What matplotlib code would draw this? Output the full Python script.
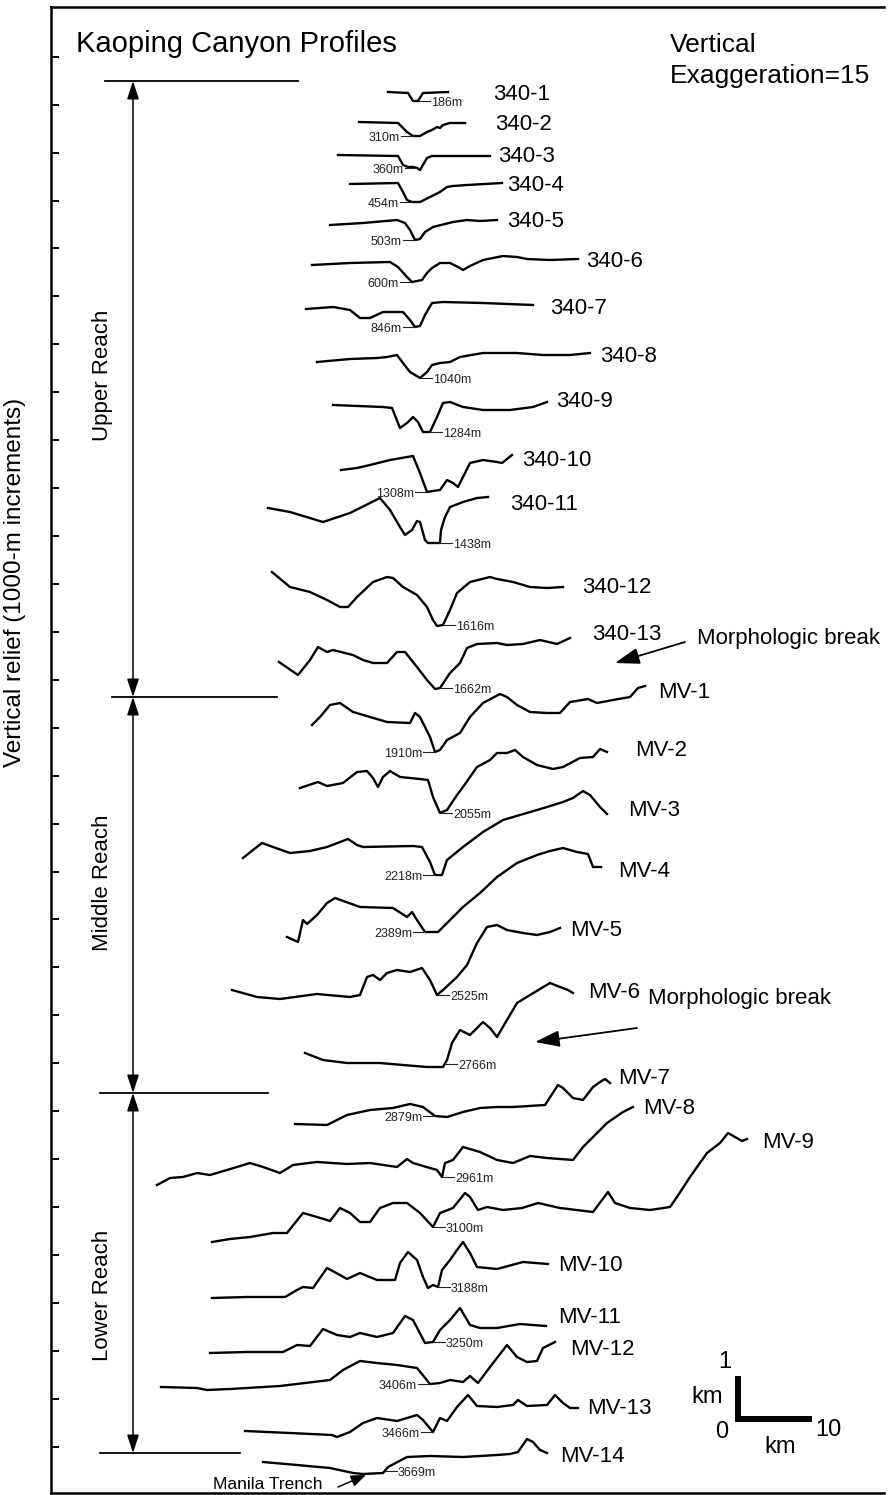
import numpy as np
import matplotlib.pyplot as plt
from matplotlib.patches import FancyArrowPatch

plt.rcParams['font.family'] = ['Liberation Sans', 'DejaVu Sans']

# profile traces (x to the right, y downwards)
p340_1 = [(388, 92), (408, 93), (413, 101), (418, 101), (423, 93), (448, 92)]
p340_2 = [(359, 122), (398, 123), (403, 128), (407, 132), (413, 136), (420, 136), (427, 132), (432, 130),
          (437, 127), (440, 128), (443, 125), (450, 123), (465, 123)]
p340_3 = [(338, 155), (398, 156), (403, 165), (408, 167), (413, 167), (417, 168), (420, 170), (427, 158),
          (432, 156), (490, 156)]
p340_4 = [(350, 184), (398, 183), (403, 192), (407, 200), (412, 202), (420, 202), (430, 197), (440, 192),
          (447, 187), (453, 186), (467, 185), (502, 183)]
p340_5 = [(330, 225), (363, 223), (397, 220), (405, 223), (410, 230), (415, 240), (420, 239), (425, 232),
          (433, 227), (453, 222), (467, 220), (480, 221), (497, 220)]
p340_6 = [(312, 265), (350, 263), (390, 262), (398, 267), (407, 277), (412, 282), (422, 280), (427, 273),
          (432, 268), (440, 263), (450, 263), (458, 267), (463, 270), (470, 266), (483, 260), (503, 256),
          (517, 257), (527, 259), (550, 260), (578, 259)]
p340_7 = [(306, 309), (333, 307), (350, 310), (360, 318), (370, 318), (383, 312), (403, 312), (410, 320),
          (415, 327), (420, 326), (425, 315), (432, 303), (443, 302), (483, 303), (533, 305)]
p340_8 = [(317, 362), (350, 359), (377, 358), (387, 357), (397, 355), (403, 363), (410, 372), (420, 378),
          (427, 372), (432, 365), (440, 363), (450, 362), (460, 357), (483, 353), (517, 353), (543, 355),
          (570, 355), (590, 353)]
p340_9 = [(333, 405), (383, 407), (392, 408), (400, 428), (407, 423), (413, 417), (418, 422), (423, 432),
          (430, 432), (437, 417), (443, 403), (450, 402), (463, 407), (483, 410), (510, 410), (533, 407),
          (547, 402)]
p340_10 = [(341, 470), (357, 468), (370, 465), (390, 460), (413, 456), (420, 473), (427, 492), (433, 491),
           (440, 490), (447, 480), (453, 483), (458, 487), (470, 463), (483, 460), (497, 462), (502, 463),
           (512, 455)]
p340_11 = [(268, 508), (290, 512), (323, 522), (350, 513), (380, 498), (390, 510), (400, 527), (405, 535),
           (412, 530), (417, 521), (420, 522), (425, 540), (428, 543), (440, 543), (441, 530), (445, 517),
           (450, 507), (463, 502), (477, 498), (488, 497)]
p340_12 = [(272, 572), (290, 587), (310, 592), (327, 600), (340, 607), (348, 607), (357, 597), (373, 582),
           (387, 577), (393, 578), (403, 587), (417, 595), (427, 607), (433, 620), (437, 626), (443, 625),
           (450, 610), (457, 593), (470, 582), (490, 577), (497, 579), (513, 582), (530, 587), (547, 588),
           (563, 587)]
p340_13 = [(279, 662), (298, 675), (310, 660), (318, 647), (327, 652), (333, 650), (353, 655), (363, 660),
           (373, 663), (387, 663), (397, 652), (405, 652), (417, 667), (427, 680), (435, 689), (440, 688),
           (450, 673), (460, 663), (467, 648), (477, 644), (497, 643), (507, 645), (523, 644), (540, 640),
           (557, 644), (570, 638)]
mv_1 = [(312, 725), (320, 717), (330, 705), (340, 703), (353, 712), (370, 717), (387, 722), (410, 723),
        (415, 713), (420, 717), (430, 737), (435, 752), (440, 750), (447, 740), (460, 733), (470, 717),
        (483, 703), (500, 694), (507, 697), (517, 705), (530, 712), (547, 713), (560, 713), (570, 702),
        (588, 699), (597, 703), (613, 700), (630, 697), (638, 688), (645, 686)]
mv_2 = [(300, 788), (318, 782), (327, 786), (343, 783), (357, 772), (367, 771), (373, 778), (378, 787),
        (383, 777), (390, 771), (400, 777), (420, 779), (428, 780), (433, 797), (440, 813), (447, 810),
        (457, 795), (463, 787), (477, 767), (490, 760), (497, 753), (507, 753), (515, 750), (523, 757),
        (537, 765), (553, 769), (563, 767), (580, 758), (593, 757), (600, 749), (607, 752)]
mv_3 = [(243, 858), (253, 850), (262, 843), (273, 847), (290, 853), (310, 851), (327, 847), (348, 839),
        (357, 845), (363, 847), (413, 846), (422, 847), (430, 862), (435, 875), (442, 875), (447, 860),
        (463, 847), (483, 832), (503, 820), (520, 815), (547, 807), (563, 802), (573, 798), (583, 791),
        (590, 795), (600, 807), (607, 814)]
mv_4 = [(287, 937), (298, 942), (303, 920), (307, 924), (317, 915), (327, 903), (335, 898), (360, 907),
        (393, 908), (407, 917), (412, 912), (417, 920), (425, 932), (438, 932), (450, 920), (463, 907),
        (480, 893), (497, 877), (517, 863), (537, 855), (550, 851), (563, 848), (577, 852), (588, 854),
        (593, 867), (601, 867)]
mv_5 = [(232, 990), (257, 997), (280, 999), (317, 994), (350, 997), (360, 995), (367, 977), (373, 975),
        (380, 980), (387, 973), (397, 970), (410, 972), (422, 968), (430, 980), (437, 995), (443, 990),
        (457, 977), (467, 965), (477, 943), (487, 927), (497, 925), (507, 930), (523, 933), (537, 935),
        (550, 932), (560, 928)]
mv_6 = [(305, 1053), (323, 1060), (347, 1063), (380, 1063), (403, 1065), (427, 1067), (443, 1067),
        (447, 1060), (452, 1043), (460, 1030), (470, 1035), (483, 1022), (490, 1028), (497, 1037),
        (507, 1020), (517, 1003), (530, 995), (550, 983), (560, 987), (568, 990), (573, 993)]
mv_7 = [(295, 1124), (327, 1125), (347, 1115), (370, 1110), (393, 1108), (410, 1104), (423, 1107),
        (435, 1116), (447, 1117), (463, 1112), (480, 1108), (497, 1107), (513, 1107), (545, 1105),
        (558, 1085), (563, 1088), (573, 1098), (583, 1100), (593, 1087), (600, 1082), (605, 1079), (610, 1083)]
mv_8 = [(157, 1185), (170, 1178), (183, 1177), (197, 1173), (210, 1175), (227, 1170), (250, 1163),
        (263, 1167), (280, 1173), (293, 1165), (317, 1162), (347, 1164), (370, 1163), (397, 1167),
        (407, 1159), (413, 1163), (423, 1166), (437, 1170), (442, 1177), (445, 1163), (453, 1160),
        (463, 1147), (480, 1152), (497, 1160), (513, 1163), (530, 1156), (547, 1158), (573, 1160),
        (583, 1147), (607, 1123), (623, 1112), (633, 1107)]
mv_9 = [(212, 1242), (230, 1239), (250, 1237), (273, 1233), (287, 1233), (303, 1213), (317, 1217),
        (330, 1221), (340, 1208), (350, 1213), (360, 1222), (370, 1222), (380, 1208), (393, 1203),
        (407, 1203), (420, 1213), (433, 1227), (440, 1213), (453, 1208), (465, 1193), (470, 1197),
        (478, 1210), (487, 1207), (503, 1210), (522, 1208), (538, 1203), (560, 1208), (593, 1212),
        (608, 1192), (615, 1203), (630, 1208), (650, 1210), (670, 1207), (677, 1197), (690, 1177),
        (707, 1153), (720, 1143), (728, 1133), (735, 1137), (742, 1141), (747, 1139)]
mv_10 = [(212, 1298), (247, 1297), (285, 1297), (297, 1290), (303, 1287), (313, 1288), (327, 1268),
         (340, 1275), (347, 1279), (360, 1273), (377, 1280), (395, 1280), (400, 1263), (408, 1252),
         (417, 1260), (423, 1277), (428, 1288), (433, 1285), (438, 1287), (442, 1270), (450, 1260),
         (457, 1250), (463, 1242), (470, 1253), (477, 1267), (497, 1269), (523, 1262), (548, 1264)]
mv_11 = [(210, 1353), (247, 1352), (283, 1352), (297, 1345), (310, 1346), (323, 1329), (337, 1335),
         (350, 1337), (360, 1333), (377, 1337), (393, 1333), (405, 1316), (413, 1320), (425, 1343),
         (433, 1342), (440, 1330), (450, 1320), (460, 1308), (470, 1325), (480, 1328), (497, 1328),
         (520, 1324), (546, 1326)]
mv_12 = [(161, 1387), (197, 1388), (207, 1390), (230, 1389), (280, 1386), (330, 1380), (343, 1370),
         (360, 1361), (377, 1363), (397, 1365), (417, 1368), (430, 1384), (440, 1383), (450, 1380),
         (463, 1382), (470, 1376), (478, 1383), (490, 1367), (507, 1345), (517, 1357), (527, 1362),
         (537, 1361), (543, 1348), (555, 1342)]
mv_13 = [(245, 1431), (290, 1433), (332, 1435), (337, 1437), (350, 1432), (363, 1423), (377, 1418),
         (397, 1421), (417, 1415), (423, 1420), (433, 1432), (440, 1418), (447, 1421), (457, 1407),
         (468, 1395), (477, 1406), (497, 1407), (513, 1405), (518, 1400), (527, 1406), (547, 1405),
         (555, 1395), (563, 1403), (570, 1408), (578, 1408)]
mv_14 = [(263, 1462), (297, 1465), (330, 1468), (353, 1473), (363, 1474), (383, 1473), (388, 1467),
         (407, 1457), (430, 1456), (463, 1457), (497, 1455), (510, 1454), (518, 1452), (527, 1439),
         (533, 1442), (540, 1450), (547, 1453)]

profiles = [p340_1, p340_2, p340_3, p340_4, p340_5, p340_6, p340_7, p340_8, p340_9, p340_10, p340_11,
            p340_12, p340_13, mv_1, mv_2, mv_3, mv_4, mv_5, mv_6, mv_7, mv_8, mv_9, mv_10, mv_11, mv_12,
            mv_13, mv_14]
names = ['340-1', '340-2', '340-3', '340-4', '340-5', '340-6', '340-7', '340-8', '340-9', '340-10',
         '340-11', '340-12', '340-13', 'MV-1', 'MV-2', 'MV-3', 'MV-4', 'MV-5', 'MV-6', 'MV-7', 'MV-8',
         'MV-9', 'MV-10', 'MV-11', 'MV-12', 'MV-13', 'MV-14']
# thalweg depth (m) and where the canyon axis sits on each trace
depth_m = [186, 310, 360, 454, 503, 600, 846, 1040, 1284, 1308, 1438, 1616, 1662, 1910, 2055, 2218,
           2389, 2525, 2766, 2879, 2961, 3100, 3188, 3250, 3406, 3466, 3669]
thalweg_x = [418, 413, 417, 412, 415, 412, 415, 420, 430, 427, 440, 443, 440, 435, 440, 435, 425, 437,
             445, 435, 442, 433, 438, 433, 430, 433, 385]
depth_side = ['r', 'l', 'l', 'l', 'l', 'l', 'l', 'r', 'r', 'l', 'r', 'r', 'r', 'l', 'r', 'l', 'l', 'r',
              'r', 'l', 'r', 'r', 'r', 'r', 'l', 'l', 'r']

reach_names = ['Upper Reach', 'Middle Reach', 'Lower Reach']
reach_bounds = [81, 697, 1093, 1453]

fig = plt.figure(figsize=(8.91, 14.95), dpi=100)
ax = fig.add_axes([51 / 891, 2 / 1495, 833 / 891, 1486 / 1495])
ax.set_xlim(51, 884)
ax.set_ylim(1493, 7)
for s in ['left', 'top', 'bottom']:
    ax.spines[s].set_linewidth(1.8)
ax.spines['right'].set_visible(False)
ax.set_xticks([])
ax.set_yticks(1446.7 - 47.93 * np.arange(30))
ax.tick_params(axis='y', direction='in', length=5.8, width=1.4, labelleft=False)


def label(x, yc, s, size, ha='left', **kw):
    # yc is the visual middle of the cap height
    ax.text(x, yc + 0.358 * size * 100 / 72, s, fontsize=size, ha=ha, va='baseline', **kw)


for pts, name, d, tx, side in zip(profiles, names, depth_m, thalweg_x, depth_side):
    xs, ys = np.array(pts, dtype=float).T
    ax.plot(xs, ys, color='black', lw=1.7, solid_joinstyle='round')
    ty = np.interp(tx, xs, ys)
    sign = 1 if side == 'r' else -1
    ax.plot([tx, tx + sign * 12], [ty, ty], color='#222222', lw=0.8)
    label(tx + sign * 13, ty + 1, f'{d}m', 9, ha='left' if side == 'r' else 'right', color='#222222')

name_pos = [(493, 92), (495, 122), (498, 154), (507, 183), (507, 219), (586, 259), (550, 306), (600, 354),
            (556, 399), (522, 458), (510, 502), (582, 585), (592, 632), (658, 690), (635, 748), (628, 808),
            (618, 869), (570, 928), (588, 990), (618, 1076), (643, 1106), (762, 1140), (558, 1263),
            (558, 1315), (570, 1347), (587, 1406), (560, 1454)]
for (x, y), name in zip(name_pos, names):
    label(x, y, name, 16)

# reach brackets
bracket_x0 = [105, 112, 100, 100]
bracket_x1 = [298, 277, 268, 240]
for y0, xa, xb in zip(reach_bounds, bracket_x0, bracket_x1):
    ax.plot([xa, xb], [y0, y0], color='black', lw=1.3)
reach_mid = [375, 883, 1295]
for y0, y1, rn, ym in zip(reach_bounds[:-1], reach_bounds[1:], reach_names, reach_mid):
    ax.add_patch(FancyArrowPatch((133, y0), (133, y1), arrowstyle='<|-|>,head_length=11,head_width=3.6',
                                 mutation_scale=1, lw=1.1, color='black', shrinkA=0, shrinkB=0))
    ax.text(103, ym, rn, fontsize=16, rotation=90, ha='center', va='center')

ax.text(15, 582, 'Vertical relief (1000-m increments)', fontsize=17.5, rotation=90, ha='center', va='center')

ax.text(76, 52, 'Kaoping Canyon Profiles', fontsize=21, ha='left', va='baseline')
ax.text(670, 52, 'Vertical', fontsize=19, ha='left', va='baseline')
ax.text(670, 83, 'Exaggeration=15', fontsize=19, ha='left', va='baseline')

# morphologic breaks
label(697, 636, 'Morphologic break', 16)
ax.add_patch(FancyArrowPatch((685, 642), (615, 663), arrowstyle='-|>,head_length=15,head_width=5',
                             mutation_scale=1, lw=1.3, color='black', shrinkA=0, shrinkB=0))
label(648, 996, 'Morphologic break', 16)
ax.add_patch(FancyArrowPatch((637, 1028), (535, 1042), arrowstyle='-|>,head_length=15,head_width=5',
                             mutation_scale=1, lw=1.3, color='black', shrinkA=0, shrinkB=0))
label(213, 1483, 'Manila Trench', 12.5)
ax.add_patch(FancyArrowPatch((338, 1487), (366, 1475), arrowstyle='-|>,head_length=9,head_width=3.5',
                             mutation_scale=1, lw=1.1, color='black', shrinkA=0, shrinkB=0))

# scale bar
ax.plot([738, 738, 812], [1376, 1419, 1419], color='black', lw=4.3, solid_joinstyle='miter',
        solid_capstyle='butt')
label(725, 1360, '1', 17, ha='center')
label(707, 1395, 'km', 17, ha='center')
label(722, 1430, '0', 17, ha='center')
label(828, 1428, '10', 17, ha='center')
label(780, 1445, 'km', 17, ha='center')

fig.savefig('out.png', dpi=100)
